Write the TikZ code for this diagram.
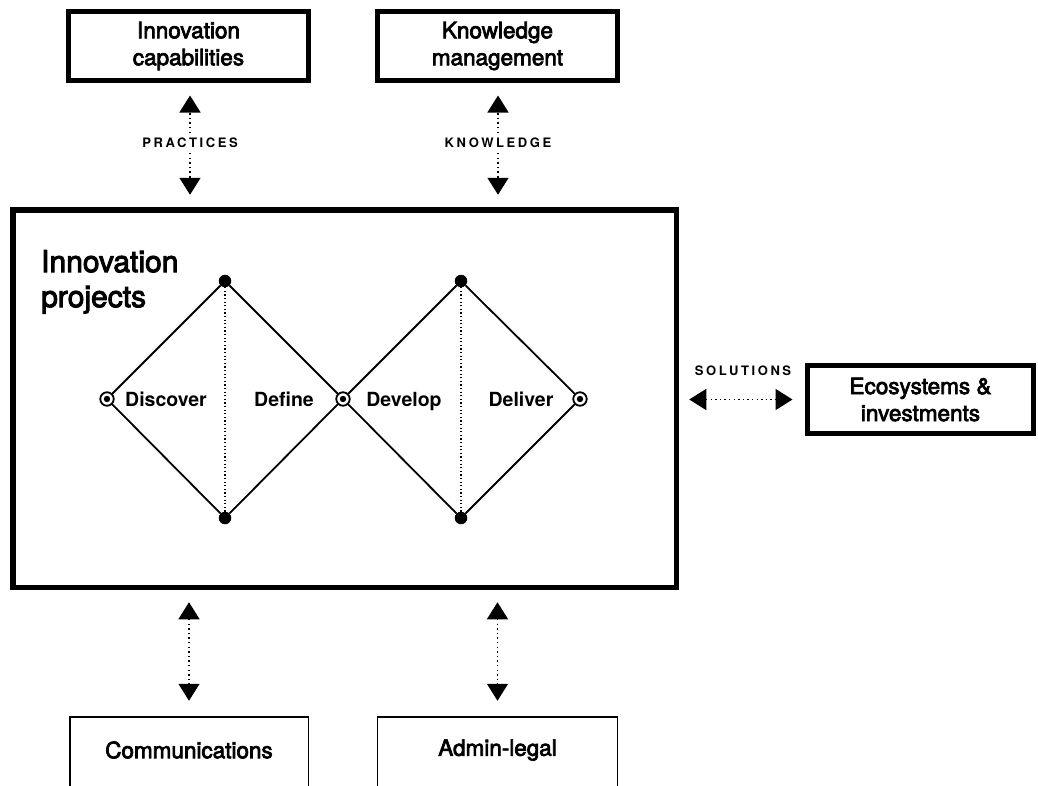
\documentclass[tikz,border=0pt]{standalone}
\usepackage{fontspec}
\setmainfont{TeX Gyre Heros}
\newfontfamily\medfont[FakeBold=3.2]{TeX Gyre Heros}
\newfontfamily\capsfont[LetterSpace=20]{TeX Gyre Heros}
\usetikzlibrary{arrows.meta}

\tikzset{
  box/.style={draw, line width=5pt, inner sep=0pt, outer sep=0pt,
    align=center, font=\medfont\fontsize{22.5}{27}\selectfont},
  thinbox/.style={draw, line width=1.5pt, inner sep=0pt, outer sep=0pt},
  boxtext/.style={font=\medfont\fontsize{22.5}{27}\selectfont, inner sep=0pt},
  phase/.style={font=\bfseries\fontsize{19.5}{22}\selectfont, inner sep=0pt, anchor=base},
  flowlabel/.style={font=\capsfont\bfseries\fontsize{13}{14}\selectfont, inner sep=5pt},
  conn/.style={line width=1.4pt, dash pattern=on 1.4pt off 3.2pt,
    arrows={-{Triangle[width=21pt,length=17pt]}}},
  biconn/.style={line width=1.4pt, dash pattern=on 1.4pt off 3.2pt,
    arrows={{Triangle[width=21pt,length=17pt]}-{Triangle[width=21pt,length=17pt]}}},
  hub/.style={circle, fill, inner sep=0pt, minimum size=12.5pt, outer sep=0pt},
  port/.style={circle, draw, fill=white, line width=1.8pt, inner sep=0pt,
    minimum size=13.5pt, outer sep=0pt},
  edge/.style={line width=1.8pt},
  divider/.style={line width=1.2pt, dash pattern=on 1.2pt off 2.4pt},
}

\begin{document}
\begin{tikzpicture}[x=1pt, y=-1pt]
\useasboundingbox (0,0) rectangle (1038,785);
\clip (0,0) rectangle (1038,785);

% surrounding units
\node[box, minimum width=240pt, minimum height=69pt] (cap) at (188.5,46) {Innovation\\capabilities};
\node[box, minimum width=240pt, minimum height=69pt] (km) at (497.5,46) {Knowledge\\management};
\node[box, minimum width=226pt, minimum height=68pt] (eco) at (920.5,399.5) {Ecosystems \&\\investments};

% main frame
\node[draw, line width=5.5pt, inner sep=0pt, outer sep=0pt,
      minimum width=663.5pt, minimum height=377.5pt] (main) at (344.5,398.5) {};
\node[anchor=north west, align=left, inner sep=0pt,
      font=\medfont\fontsize{30}{35}\selectfont] (title) at (41,250) {Innovation\\projects};

% bottom units, open at the lower edge
\node[thinbox, minimum width=238.5pt, minimum height=104pt] (comm) at (189,768.75) {};
\node[thinbox, minimum width=240pt, minimum height=104pt] (admin) at (497.5,768.75) {};
\node[boxtext] (commlabel) at (189,750) {Communications};
\node[boxtext] (adminlabel) at (497.5,750) {Admin-legal};

% flow labels
\node[flowlabel] (practices) at (190,143) {PRACTICES};
\node[flowlabel] (knowledge) at (498,143) {KNOWLEDGE};
\node[flowlabel] (solutions) at (743,371) {SOLUTIONS};

% exchanges
\draw[conn, shorten >=15pt] (practices) -- (practices |- cap.south);
\draw[conn, shorten >=15pt] (practices) -- (practices |- main.north);
\draw[conn, shorten >=15pt] (knowledge) -- (knowledge |- km.south);
\draw[conn, shorten >=15pt] (knowledge) -- (knowledge |- main.north);
\draw[biconn, shorten <=15pt, shorten >=16pt] (comm.north |- main.south) -- (comm.north);
\draw[biconn, shorten <=15pt, shorten >=16pt] (admin.north |- main.south) -- (admin.north);
\draw[biconn, shorten <=13pt, shorten >=15pt] (main.east |- eco.west) -- (eco.west);

% double diamond
\node[port] (start) at (107,399) {};
\node[port] (mid) at (343,399) {};
\node[port] (end) at (580,399) {};
\node[hub] (top1) at (225,281) {};
\node[hub] (bot1) at (225,518) {};
\node[hub] (top2) at (461,281) {};
\node[hub] (bot2) at (461,518) {};

\draw[edge] (start) -- (top1) -- (mid) -- (bot1) -- (start);
\draw[edge] (mid) -- (top2) -- (end) -- (bot2) -- (mid);
\draw[divider] (top1) -- (bot1);
\draw[divider] (top2) -- (bot2);
\foreach \p in {start, mid, end} \fill (\p.center) circle (3.2pt);

\node[phase] (discover) at (166,406) {Discover};
\node[phase] (define) at (284,406) {Define};
\node[phase] (develop) at (404,406) {Develop};
\node[phase] (deliver) at (521,406) {Deliver};
\end{tikzpicture}
\end{document}
